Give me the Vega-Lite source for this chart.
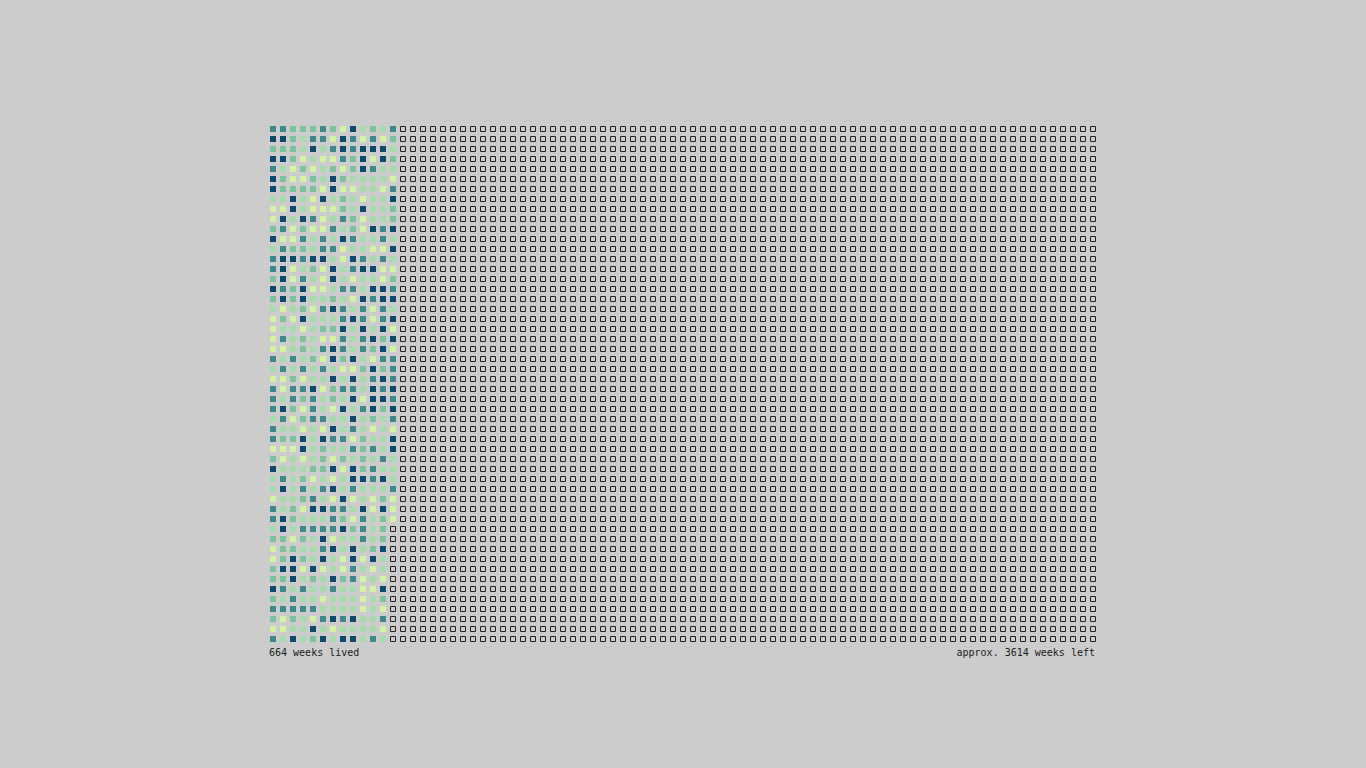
{
  "$schema": "https://vega.github.io/schema/vega-lite/v6.json",
  "width": 830,
  "height": 520,
  "autosize": {"type": "none"},
  "padding": {"left": 268, "top": 124, "right": 268, "bottom": 124},
  "background": "#cccccc",
  "config": {"view": {"stroke": null}, "font": "DejaVu Sans Mono"},
  "layer": [
    {
      "data": {"values": [
        {"r": [0,1,2,3,4,5,6,7,8,9,10,11,12,13,14,15,16,17,18,19,20,21,22,23,24,25,26,27,28,29,30,31,32,33,34,35,36,37,38,39],
         "c": [13,14,15,16,17,18,19,20,21,22,23,24,25,26,27,28,29,30,31,32,33,34,35,36,37,38,39,40,41,42,43,44,45,46,47,48,49,50,51,52,53,54,55,56,57,58,59,60,61,62,63,64,65,66,67,68,69,70,71,72,73,74,75,76,77,78,79,80,81,82]},
        {"r": [40,41,42,43,44,45,46,47,48,49,50,51],
         "c": [12,13,14,15,16,17,18,19,20,21,22,23,24,25,26,27,28,29,30,31,32,33,34,35,36,37,38,39,40,41,42,43,44,45,46,47,48,49,50,51,52,53,54,55,56,57,58,59,60,61,62,63,64,65,66,67,68,69,70,71,72,73,74,75,76,77,78,79,80,81,82]}
      ]},
      "transform": [{"flatten": ["r"]}, {"flatten": ["c"]}],
      "mark": {"type": "point", "shape": "square", "filled": false, "size": 25, "stroke": "#222222", "strokeWidth": 1, "opacity": 1},
      "encoding": {
        "x": {"field": "c", "type": "quantitative", "scale": {"domain": [-0.5, 82.5], "nice": false, "zero": false}, "axis": null},
        "y": {"field": "r", "type": "quantitative", "scale": {"domain": [-0.5, 51.5], "nice": false, "zero": false, "reverse": true}, "axis": null}
      }
    },
    {
      "data": {"values": [
        {"r":0,"c":[0,1,2,3,4,5,6,7,8,9,10,11,12],"v":[4,4,3,3,3,4,3,1,5,2,3,2,4]},
        {"r":1,"c":[0,1,2,3,4,5,6,7,8,9,10,11,12],"v":[5,5,3,2,4,4,1,5,4,1,4,1,3]},
        {"r":2,"c":[0,1,2,3,4,5,6,7,8,9,10,11,12],"v":[3,3,3,2,5,2,4,5,4,5,5,5,2]},
        {"r":3,"c":[0,1,2,3,4,5,6,7,8,9,10,11,12],"v":[5,5,3,1,2,1,1,4,3,5,1,5,3]},
        {"r":4,"c":[0,1,2,3,4,5,6,7,8,9,10,11,12],"v":[4,2,1,3,1,2,3,1,3,5,4,2,2]},
        {"r":5,"c":[0,1,2,3,4,5,6,7,8,9,10,11,12],"v":[5,3,1,1,3,2,5,3,2,2,2,2,1]},
        {"r":6,"c":[0,1,2,3,4,5,6,7,8,9,10,11,12],"v":[5,3,3,3,3,1,5,1,1,2,2,1,4]},
        {"r":7,"c":[0,1,2,3,4,5,6,7,8,9,10,11,12],"v":[2,2,5,2,1,5,2,3,2,1,2,2,5]},
        {"r":8,"c":[0,1,2,3,4,5,6,7,8,9,10,11,12],"v":[1,1,5,2,1,1,1,3,2,5,2,2,3]},
        {"r":9,"c":[0,1,2,3,4,5,6,7,8,9,10,11,12],"v":[1,5,2,5,4,1,2,4,3,1,2,2,3]},
        {"r":10,"c":[0,1,2,3,4,5,6,7,8,9,10,11,12],"v":[3,4,1,3,1,1,4,2,3,1,5,4,5]},
        {"r":11,"c":[0,1,2,3,4,5,6,7,8,9,10,11,12],"v":[5,1,1,4,2,4,2,5,4,2,2,4,2]},
        {"r":12,"c":[0,1,2,3,4,5,6,7,8,9,10,11,12],"v":[2,4,3,3,2,4,4,1,2,2,1,1,5]},
        {"r":13,"c":[0,1,2,3,4,5,6,7,8,9,10,11,12],"v":[4,5,5,4,5,5,2,1,5,4,2,4,2]},
        {"r":14,"c":[0,1,2,3,4,5,6,7,8,9,10,11,12],"v":[4,5,1,2,3,1,5,2,4,5,5,1,1]},
        {"r":15,"c":[0,1,2,3,4,5,6,7,8,9,10,11,12],"v":[3,5,1,4,2,1,5,2,1,2,2,1,3]},
        {"r":16,"c":[0,1,2,3,4,5,6,7,8,9,10,11,12],"v":[5,4,3,5,1,1,2,4,4,2,5,5,4]},
        {"r":17,"c":[0,1,2,3,4,5,6,7,8,9,10,11,12],"v":[3,5,3,5,2,2,3,2,1,5,4,5,5]},
        {"r":18,"c":[0,1,2,3,4,5,6,7,8,9,10,11,12],"v":[2,1,2,3,1,4,5,4,2,4,1,4,2]},
        {"r":19,"c":[0,1,2,3,4,5,6,7,8,9,10,11,12],"v":[1,3,1,5,2,2,2,4,5,4,1,4,5]},
        {"r":20,"c":[0,1,2,3,4,5,6,7,8,9,10,11,12],"v":[1,2,2,1,2,3,3,5,2,5,2,5,1]},
        {"r":21,"c":[0,1,2,3,4,5,6,7,8,9,10,11,12],"v":[1,4,2,3,2,1,1,4,2,4,5,3,5]},
        {"r":22,"c":[0,1,2,3,4,5,6,7,8,9,10,11,12],"v":[1,1,2,3,2,4,5,4,2,4,3,5,1]},
        {"r":23,"c":[0,1,2,3,4,5,6,7,8,9,10,11,12],"v":[4,2,4,2,3,1,5,3,5,2,1,4,4]},
        {"r":24,"c":[0,1,2,3,4,5,6,7,8,9,10,11,12],"v":[2,4,2,4,2,4,2,1,1,3,5,3,4]},
        {"r":25,"c":[0,1,2,3,4,5,6,7,8,9,10,11,12],"v":[1,1,3,1,2,2,5,2,5,2,4,5,4]},
        {"r":26,"c":[0,1,2,3,4,5,6,7,8,9,10,11,12],"v":[4,1,4,4,5,1,3,4,4,2,5,4,5]},
        {"r":27,"c":[0,1,2,3,4,5,6,7,8,9,10,11,12],"v":[4,2,4,3,4,2,3,2,5,1,5,5,4]},
        {"r":28,"c":[0,1,2,3,4,5,6,7,8,9,10,11,12],"v":[4,5,3,1,4,2,1,5,2,4,5,3,5]},
        {"r":29,"c":[0,1,2,3,4,5,6,7,8,9,10,11,12],"v":[2,4,1,3,4,4,2,2,5,2,3,2,4]},
        {"r":30,"c":[0,1,2,3,4,5,6,7,8,9,10,11,12],"v":[4,2,2,1,2,1,5,2,4,2,1,2,1]},
        {"r":31,"c":[0,1,2,3,4,5,6,7,8,9,10,11,12],"v":[4,3,3,5,2,5,4,4,1,3,2,2,5]},
        {"r":32,"c":[0,1,2,3,4,5,6,7,8,9,10,11,12],"v":[1,1,1,5,2,3,2,2,4,3,4,2,5]},
        {"r":33,"c":[0,1,2,3,4,5,6,7,8,9,10,11,12],"v":[3,1,2,1,2,3,1,3,2,3,2,4,2]},
        {"r":34,"c":[0,1,2,3,4,5,6,7,8,9,10,11,12],"v":[5,2,2,2,3,3,5,1,5,3,4,2,2]},
        {"r":35,"c":[0,1,2,3,4,5,6,7,8,9,10,11,12],"v":[2,4,2,3,1,2,1,2,5,5,4,5,2]},
        {"r":36,"c":[0,1,2,3,4,5,6,7,8,9,10,11,12],"v":[2,5,2,4,2,4,5,2,4,2,2,2,4]},
        {"r":37,"c":[0,1,2,3,4,5,6,7,8,9,10,11,12],"v":[1,2,2,3,4,2,1,5,1,2,1,3,1]},
        {"r":38,"c":[0,1,2,3,4,5,6,7,8,9,10,11,12],"v":[4,2,3,1,5,5,4,4,2,5,1,5,1]},
        {"r":39,"c":[0,1,2,3,4,5,6,7,8,9,10,11,12],"v":[4,5,3,2,2,2,4,3,1,4,2,3,1]},
        {"r":40,"c":[0,1,2,3,4,5,6,7,8,9,10,11],"v":[2,5,2,4,4,4,4,5,3,4,2,3]},
        {"r":41,"c":[0,1,2,3,4,5,6,7,8,9,10,11],"v":[3,3,1,3,2,5,1,2,2,4,2,3]},
        {"r":42,"c":[0,1,2,3,4,5,6,7,8,9,10,11],"v":[1,3,3,2,2,4,5,2,5,2,3,5]},
        {"r":43,"c":[0,1,2,3,4,5,6,7,8,9,10,11],"v":[1,3,5,3,2,5,2,1,5,1,5,2]},
        {"r":44,"c":[0,1,2,3,4,5,6,7,8,9,10,11],"v":[3,5,5,1,5,1,2,1,4,2,1,2]},
        {"r":45,"c":[0,1,2,3,4,5,6,7,8,9,10,11],"v":[3,3,5,2,3,2,5,3,4,1,2,1]},
        {"r":46,"c":[0,1,2,3,4,5,6,7,8,9,10,11],"v":[5,4,2,4,2,2,4,2,2,1,1,5]},
        {"r":47,"c":[0,1,2,3,4,5,6,7,8,9,10,11],"v":[3,2,4,2,2,1,2,2,2,1,2,3]},
        {"r":48,"c":[0,1,2,3,4,5,6,7,8,9,10,11],"v":[4,4,4,4,4,2,2,2,2,1,2,1]},
        {"r":49,"c":[0,1,2,3,4,5,6,7,8,9,10,11],"v":[3,1,3,2,1,4,5,4,5,2,2,4]},
        {"r":50,"c":[0,1,2,3,4,5,6,7,8,9,10,11],"v":[1,1,2,2,5,2,1,2,2,2,2,1]},
        {"r":51,"c":[0,1,2,3,4,5,6,7,8,9,10,11],"v":[4,2,5,2,3,5,2,5,5,2,4,2]}
      ]},
      "transform": [{"flatten": ["c", "v"]}],
      "mark": {"type": "point", "shape": "square", "filled": true, "size": 36, "opacity": 1, "strokeWidth": 0},
      "encoding": {
        "x": {"field": "c", "type": "quantitative"},
        "y": {"field": "r", "type": "quantitative"},
        "color": {"field": "v", "type": "ordinal", "scale": {"domain": [1, 2, 3, 4, 5], "range": ["#d3f3a3", "#a6dbab", "#7cc29c", "#3e8a8b", "#0d4a6e"]}, "legend": null}
      }
    },
    {
      "data": {"values": [{"t": "664 weeks lived", "x": -0.4, "y": 52.7}]},
      "mark": {"type": "text", "align": "left", "baseline": "alphabetic", "fontSize": 10, "font": "DejaVu Sans Mono", "color": "#222222"},
      "encoding": {
        "x": {"field": "x", "type": "quantitative"},
        "y": {"field": "y", "type": "quantitative"},
        "text": {"field": "t"}
      }
    },
    {
      "data": {"values": [{"t": "approx. 3614 weeks left", "x": 82.2, "y": 52.7}]},
      "mark": {"type": "text", "align": "right", "baseline": "alphabetic", "fontSize": 10, "font": "DejaVu Sans Mono", "color": "#222222"},
      "encoding": {
        "x": {"field": "x", "type": "quantitative"},
        "y": {"field": "y", "type": "quantitative"},
        "text": {"field": "t"}
      }
    }
  ]
}
